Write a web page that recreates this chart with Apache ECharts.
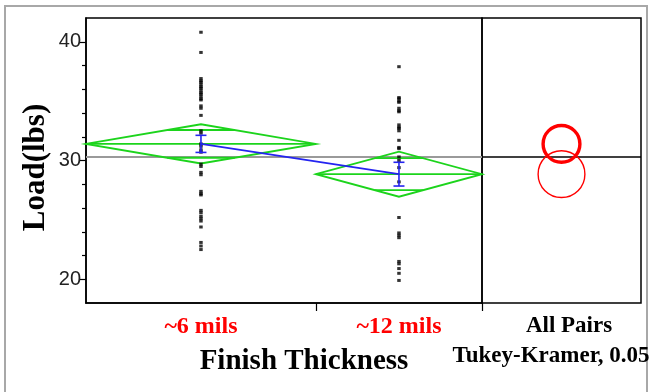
<!DOCTYPE html>
<html>
<head>
<meta charset="utf-8">
<script src="https://cdn.jsdelivr.net/npm/echarts@6/dist/echarts.min.js"></script>
<style>
  html, body { margin: 0; padding: 0; background: #fff; }
  #chart { width: 650px; height: 392px; }
</style>
</head>
<body>
<div id="chart"></div>
<script>
// Groups and sample sizes (x band widths are proportional to n)
const groups = ['~6 mils', '~12 mils'];
const groupN = [36, 26];

// Individual load readings (lbs)
const load6 = [40.8, 39.1, 36.9, 36.7, 36.6, 36.4, 36.2, 36.1, 35.9, 35.7, 35.6, 35.4, 35.2, 35.1,
  34.6, 34.4, 33.8, 32.5, 32.3, 31.4, 31.2, 30.9, 30.7, 29.7, 29.5, 29.0, 28.8,
  27.4, 27.2, 27.1, 25.8, 25.6, 25.3, 25.1, 24.9, 24.4, 23.1, 22.8, 22.5];
const load12 = [37.9, 35.3, 35.2, 35.0, 34.9, 34.4, 34.2, 34.1, 33.0, 32.8, 32.7, 32.5,
  31.7, 31.1, 31.0, 30.3, 30.0, 29.4, 28.2, 25.2, 23.9, 23.7, 23.5,
  21.5, 21.3, 20.9, 20.5, 19.9];

// Summary statistics per group
const groupMean = [31.4, 28.85];
const ci95Half = [1.65, 1.9];
const stdErr = [0.72, 1.0];
const grandMean = 30.3;
// Tukey-Kramer comparison circle radii (lbs)
const circleRadius = [1.55, 1.97];

// Axis ticks
const yMajorTicks = [20, 30, 40];
const yMinorTicks = [22, 24, 26, 28, 32, 34, 36, 38];
const yMin = 18, yMax = 42;

// Band layout along x
const xStart = [], xEnd = [], xMid = [];
let acc = 0;
groupN.forEach((n, i) => { xStart[i] = acc; xEnd[i] = acc + n; xMid[i] = acc + n / 2; acc += n; });
const xTotal = acc;

const GREEN = '#1cd41c';
const BLUE = '#2424f0';
const RED = '#ff0000';
const SERIF = '"Liberation Serif", "Times New Roman", serif';
const SANS = '"Liberation Sans", Arial, sans-serif';

const chart = echarts.init(document.getElementById('chart'), null, { renderer: 'canvas' });

const option = {
  animation: false,
  backgroundColor: '#fff',
  grid: [
    { left: 86, top: 18, width: 396, height: 285, show: true, borderColor: '#000', borderWidth: 1.5, backgroundColor: 'transparent' },
    { left: 482, top: 18, width: 159, height: 285, show: true, borderColor: '#000', borderWidth: 1.5, backgroundColor: 'transparent' }
  ],
  xAxis: [
    {
      type: 'value', gridIndex: 0, min: 0, max: xTotal,
      splitLine: { show: false },
      axisLine: { show: true, onZero: false, lineStyle: { color: '#000', width: 1.5 } },
      axisTick: { show: true, customValues: [xEnd[0], xTotal], length: 8, lineStyle: { color: '#000', width: 1.2 } },
      axisLabel: {
        show: true, customValues: xMid, margin: 12,
        formatter: v => groups[xMid.indexOf(v)] || '',
        color: RED, fontFamily: SERIF, fontWeight: 'bold', fontSize: 24
      }
    },
    {
      type: 'value', gridIndex: 1, min: 0, max: 1,
      splitLine: { show: false }, axisLine: { show: false }, axisTick: { show: false }, axisLabel: { show: false }
    }
  ],
  yAxis: [
    {
      type: 'value', gridIndex: 0, min: yMin, max: yMax,
      name: 'Load(lbs)', nameLocation: 'middle', nameRotate: 90, nameGap: 35, nameMoveOverlap: false,
      nameTextStyle: { fontFamily: SERIF, fontWeight: 'bold', fontSize: 31, color: '#000', padding: [0, 14, 0, 0] },
      splitLine: { show: false },
      axisLine: { show: true, onZero: false, lineStyle: { color: '#000', width: 1.5 } },
      axisTick: { show: true, customValues: yMajorTicks, length: 7, lineStyle: { color: '#000', width: 1.2 } },
      axisLabel: { show: true, customValues: yMajorTicks, margin: 5, color: '#222', fontFamily: SANS, fontSize: 20 }
    },
    {
      type: 'value', gridIndex: 1, min: yMin, max: yMax,
      splitLine: { show: false }, axisLine: { show: false }, axisTick: { show: false }, axisLabel: { show: false }
    },
    {
      type: 'value', gridIndex: 0, min: yMin, max: yMax, position: 'left',
      splitLine: { show: false }, axisLine: { show: false },
      axisTick: { show: true, customValues: yMinorTicks, length: 4, lineStyle: { color: '#000', width: 1.2 } },
      axisLabel: { show: false }
    }
  ],
  graphic: [
    { type: 'rect', shape: { x: 5, y: 6, width: 642, height: 400 }, style: { fill: 'none', stroke: '#a8a8a8', lineWidth: 2 }, silent: true, z: -1 },
    { type: 'text', x: 304, y: 362, style: { text: 'Finish Thickness', fontFamily: SERIF, fontWeight: 'bold', fontSize: 29, fill: '#000', align: 'center', verticalAlign: 'middle' } },
    { type: 'text', x: 569, y: 326, style: { text: 'All Pairs', fontFamily: SERIF, fontWeight: 'bold', fontSize: 23, fill: '#000', align: 'center', verticalAlign: 'middle' } },
    { type: 'text', x: 551, y: 356, style: { text: 'Tukey-Kramer, 0.05', fontFamily: SERIF, fontWeight: 'bold', fontSize: 23, fill: '#000', align: 'center', verticalAlign: 'middle' } }
  ],
  series: [
    // grand mean reference line
    {
      type: 'line', xAxisIndex: 0, yAxisIndex: 0, symbol: 'none', silent: true,
      data: [[0, grandMean], [xTotal, grandMean]],
      lineStyle: { color: '#9a9a9a', width: 2 }, z: 1
    },
    // means diamonds with overlap marks
    {
      type: 'custom', xAxisIndex: 0, yAxisIndex: 0, silent: true, z: 2,
      encode: { x: [0, 1], y: 2 },
      data: groups.map((g, i) => [xStart[i], xEnd[i], groupMean[i], ci95Half[i]]),
      renderItem: (params, api) => {
        const x0 = api.value(0), x1 = api.value(1), m = api.value(2), h = api.value(3);
        const xc = (x0 + x1) / 2;
        const ho = h * Math.SQRT1_2;
        const xw = (x1 - x0) / 2 * (1 - Math.SQRT1_2);
        const st = { stroke: GREEN, lineWidth: 1.8, fill: 'none' };
        const seg = (a, b) => ({ type: 'line', shape: { x1: a[0], y1: a[1], x2: b[0], y2: b[1] }, style: st });
        return {
          type: 'group',
          children: [
            { type: 'polygon', shape: { points: [api.coord([x0, m]), api.coord([xc, m + h]), api.coord([x1, m]), api.coord([xc, m - h])] }, style: st },
            seg(api.coord([x0, m]), api.coord([x1, m])),
            seg(api.coord([xc - xw, m + ho]), api.coord([xc + xw, m + ho])),
            seg(api.coord([xc - xw, m - ho]), api.coord([xc + xw, m - ho]))
          ]
        };
      }
    },
    // raw points
    {
      type: 'scatter', xAxisIndex: 0, yAxisIndex: 0, symbol: 'rect', symbolSize: [3.5, 3], silent: true, z: 3,
      itemStyle: { color: '#000' },
      data: load6.map(v => [xMid[0], v]).concat(load12.map(v => [xMid[1], v]))
    },
    // line connecting means
    {
      type: 'line', xAxisIndex: 0, yAxisIndex: 0, symbol: 'none', silent: true, z: 4,
      data: groups.map((g, i) => [xMid[i], groupMean[i]]),
      lineStyle: { color: BLUE, width: 1.6 }
    },
    // mean error bars
    {
      type: 'custom', xAxisIndex: 0, yAxisIndex: 0, silent: true, z: 5,
      encode: { x: 0, y: 1 },
      data: groups.map((g, i) => [xMid[i], groupMean[i], stdErr[i]]),
      renderItem: (params, api) => {
        const x = api.value(0), m = api.value(1), e = api.value(2);
        const top = api.coord([x, m + e]), bot = api.coord([x, m - e]);
        const st = { stroke: BLUE, lineWidth: 1.6 };
        const cap = 5.5;
        return {
          type: 'group',
          children: [
            { type: 'line', shape: { x1: top[0], y1: top[1], x2: bot[0], y2: bot[1] }, style: st },
            { type: 'line', shape: { x1: top[0] - cap, y1: top[1], x2: top[0] + cap, y2: top[1] }, style: st },
            { type: 'line', shape: { x1: bot[0] - cap, y1: bot[1], x2: bot[0] + cap, y2: bot[1] }, style: st }
          ]
        };
      }
    },
    // grand mean line in comparison panel
    {
      type: 'line', xAxisIndex: 1, yAxisIndex: 1, symbol: 'none', silent: true, z: 1,
      data: [[0, grandMean], [1, grandMean]],
      lineStyle: { color: '#000', width: 1.5 }
    },
    // comparison circles
    {
      type: 'custom', xAxisIndex: 1, yAxisIndex: 1, silent: true, z: 3,
      encode: { x: 0, y: 1 },
      data: groups.map((g, i) => [0.5, groupMean[i], circleRadius[i], i === 0 ? 3.4 : 1.4]),
      renderItem: (params, api) => {
        const c = api.coord([api.value(0), api.value(1)]);
        const r = api.size([0, api.value(2)])[1];
        return { type: 'circle', shape: { cx: c[0], cy: c[1], r: r }, style: { stroke: RED, fill: 'none', lineWidth: api.value(3) } };
      }
    }
  ]
};

chart.setOption(option);
</script>
</body>
</html>
